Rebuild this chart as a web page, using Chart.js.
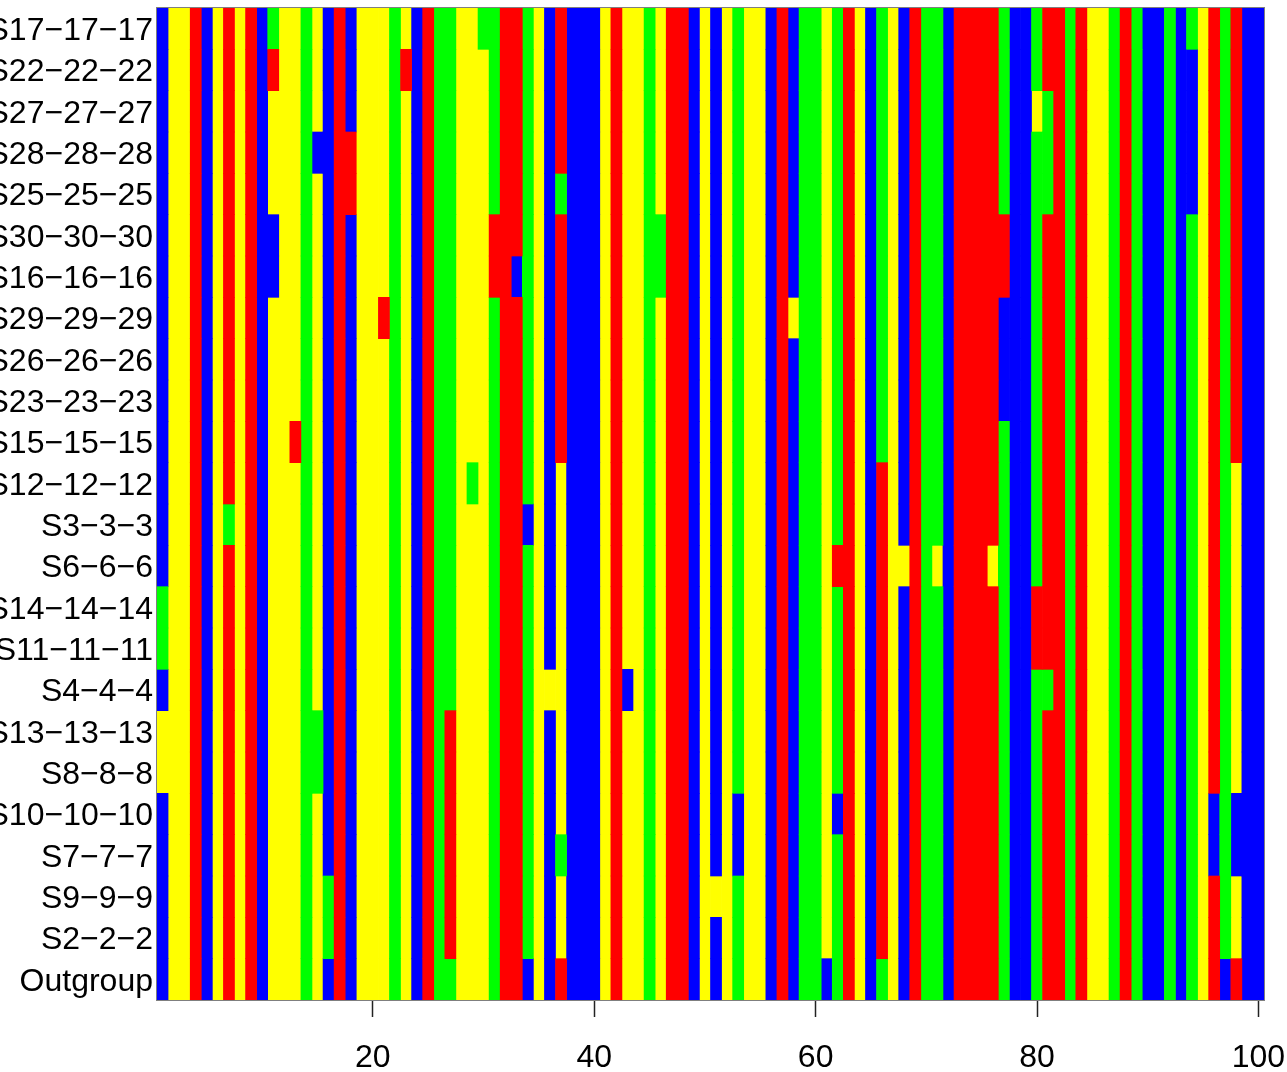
<!DOCTYPE html>
<html>
<head>
<meta charset="utf-8">
<style>
  html, body { margin: 0; padding: 0; background: #fff; }
  canvas { display: block; }
</style>
<script src="https://cdn.jsdelivr.net/npm/chart.js@4"></script>
</head>
<body>
<canvas id="alignment" width="1287" height="1072"></canvas>
<script>
// Sequence names, top to bottom
const taxa = [
    'S17−17−17', 'S22−22−22', 'S27−27−27', 'S28−28−28', 'S25−25−25', 'S30−30−30',
    'S16−16−16', 'S29−29−29', 'S26−26−26', 'S23−23−23', 'S15−15−15', 'S12−12−12',
    'S3−3−3', 'S6−6−6', 'S14−14−14', 'S11−11−11', 'S4−4−4', 'S13−13−13',
    'S8−8−8', 'S10−10−10', 'S7−7−7', 'S9−9−9', 'S2−2−2', 'Outgroup'
];

// Most common state at each of the 100 sites (b, y, r, g)
const consensus =
    'byyrbyryrb' + 'yyygybrbyy' + 'ygybrggyyy' + 'grrgybrbbb' + 'yryygyrrby' +
    'bygyybrbgg' + 'ygrybgybrg' + 'gbrrrrgbbg' + 'rrgryygrgb' + 'bgbgyrgrbb';

// Where a taxon differs from the consensus: [site, state, row indexes]
const variants = [
    [1, 'g', [14, 15]], [1, 'y', [17, 18]],
    [7, 'g', [12]],
    [11, 'g', [0]], [11, 'r', [1]], [11, 'b', [5, 6]],
    [13, 'r', [10]],
    [15, 'b', [3]], [15, 'g', [17, 18]],
    [16, 'g', [21, 22]],
    [18, 'r', [3, 4]],
    [21, 'r', [7]],
    [23, 'r', [1]],
    [27, 'r', [17, 18, 19, 20, 21, 22]],
    [29, 'g', [11]],
    [30, 'g', [0]],
    [31, 'r', [5, 6]],
    [33, 'b', [6]],
    [34, 'b', [12, 23]],
    [36, 'y', [16]],
    [37, 'g', [4, 20]], [37, 'y', [11, 12, 13, 14, 15, 16, 17, 18, 19, 21, 22]],
    [43, 'b', [16]],
    [46, 'g', [5, 6]],
    [51, 'y', [21]],
    [53, 'b', [19, 20]],
    [58, 'y', [7]],
    [61, 'b', [23]],
    [62, 'r', [13]], [62, 'b', [19]],
    [66, 'r', [11, 12, 13, 14, 15, 16, 17, 18, 19, 20, 21, 22]],
    [68, 'y', [13]],
    [71, 'y', [13]],
    [76, 'y', [13]],
    [77, 'r', [5, 6]], [77, 'b', [7, 8, 9]],
    [80, 'y', [2]], [80, 'r', [14, 15]],
    [81, 'g', [2, 3, 4, 16]],
    [94, 'b', [1, 2, 3, 4]],
    [96, 'b', [19, 20]],
    [97, 'b', [23]],
    [98, 'y', [11, 12, 13, 14, 15, 16, 17, 18, 21, 22]], [98, 'b', [19, 20]]
];

const siteTicks = [20, 40, 60, 80, 100];

const stateColors = { r: '#FF0000', g: '#00FF00', b: '#0000FF', y: '#FFFF00' };

// Look up the state of one cell
function stateAt(row, site) {
    let state = consensus[site - 1];
    variants.forEach(v => {
        if (v[0] === site && v[2].includes(row)) state = v[1];
    });
    return state;
}

// One dataset per state, each cell is a floating bar one site wide
const datasets = Object.keys(stateColors).map(key => {
    const cells = [];
    taxa.forEach((name, row) => {
        for (let site = 1; site <= consensus.length; site++) {
            if (stateAt(row, site) === key) cells.push({ x: [site - 0.5, site + 0.5], y: name });
        }
    });
    return {
        label: key,
        data: cells,
        backgroundColor: stateColors[key],
        borderWidth: 0,
        barPercentage: 1,
        categoryPercentage: 1,
        grouped: false
    };
});

// Thin box round the plot
const plotBox = {
    id: 'plotBox',
    afterDraw(chart) {
        const { ctx, chartArea: a } = chart;
        ctx.save();
        ctx.strokeStyle = '#7f7f7f';
        ctx.lineWidth = 1;
        ctx.strokeRect(a.left - 0.5, a.top - 0.5, a.right - a.left + 1, a.bottom - a.top + 1);
        ctx.restore();
    }
};

new Chart(document.getElementById('alignment'), {
    type: 'bar',
    data: { labels: taxa, datasets: datasets },
    plugins: [plotBox],
    options: {
        indexAxis: 'y',
        responsive: false,
        animation: false,
        devicePixelRatio: 1,
        layout: { padding: { top: 8, right: 23, left: 0, bottom: 0 } },
        plugins: {
            legend: { display: false },
            tooltip: { enabled: false }
        },
        scales: {
            x: {
                type: 'linear',
                position: 'bottom',
                min: 0.5,
                max: 100.5,
                afterBuildTicks: scale => { scale.ticks = siteTicks.map(v => ({ value: v })); },
                afterFit: scale => { scale.height = 72; scale.paddingLeft = 0; scale.paddingRight = 0; },
                border: { display: false },
                grid: { drawOnChartArea: false, drawTicks: true, tickLength: 17, tickColor: '#222', tickWidth: 1.5 },
                ticks: {
                    color: '#000',
                    padding: 22,
                    maxRotation: 0,
                    autoSkip: false,
                    font: { family: 'Liberation Sans', size: 32 }
                }
            },
            y: {
                type: 'category',
                position: 'left',
                afterFit: scale => { scale.width = 157; scale.paddingTop = 0; scale.paddingBottom = 0; },
                border: { display: false },
                grid: { display: false, drawTicks: false },
                ticks: {
                    color: '#000',
                    padding: 4,
                    labelOffset: 2.5,
                    autoSkip: false,
                    font: { family: 'Liberation Sans', size: 32 }
                }
            }
        }
    }
});
</script>
</body>
</html>
